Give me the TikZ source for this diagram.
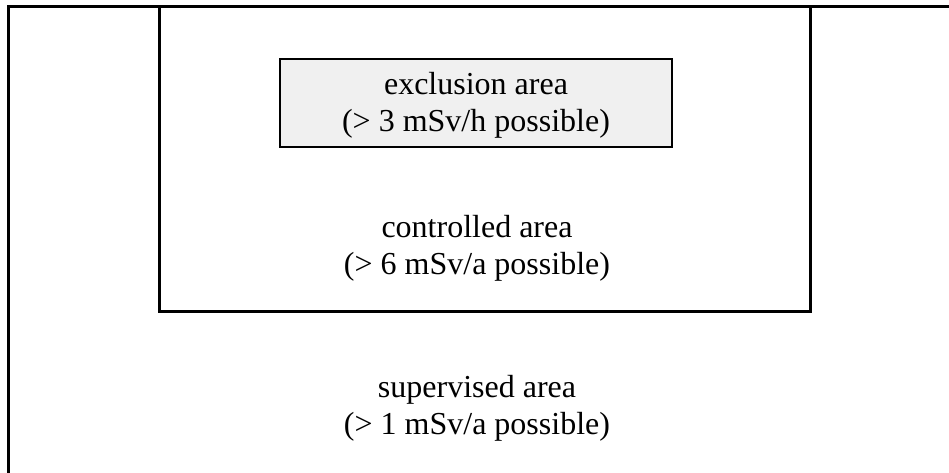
\documentclass[tikz,border=0pt]{standalone}
\usepackage{fontspec}
\setmainfont{Liberation Serif}
\definecolor{boxgray}{RGB}{240,240,240}
\tikzset{
  frameline/.style={line width=3pt, line cap=rect},
  exclbox/.style={draw, line width=2pt, fill=boxgray},
  lbl/.style={anchor=base, inner sep=0pt, font=\fontsize{32}{38}\selectfont}
}
\begin{document}
\begin{tikzpicture}[x=1pt, y=-1pt]
  \useasboundingbox (0,0) rectangle (949,473);
  % supervised area (outer frame: only top and left visible)
  \draw[frameline] (949,7) -- (8,7) -- (8,480);
  % controlled area
  \draw[frameline] (159.5,7) -- (159.5,311) -- (810,311) -- (810,7);
  % exclusion area
  \draw[exclbox] (280,59) rectangle (672,147);
  \node[lbl] (ex1) at (476,95) {exclusion area};
  \node[lbl] (ex2) at (476,132) {(> 3 mSv/h possible)};
  \node[lbl] (co1) at (477,237) {controlled area};
  \node[lbl] (co2) at (477,274) {(> 6 mSv/a possible)};
  \node[lbl] (su1) at (477,397) {supervised area};
  \node[lbl] (su2) at (477,434) {(> 1 mSv/a possible)};
\end{tikzpicture}
\end{document}
